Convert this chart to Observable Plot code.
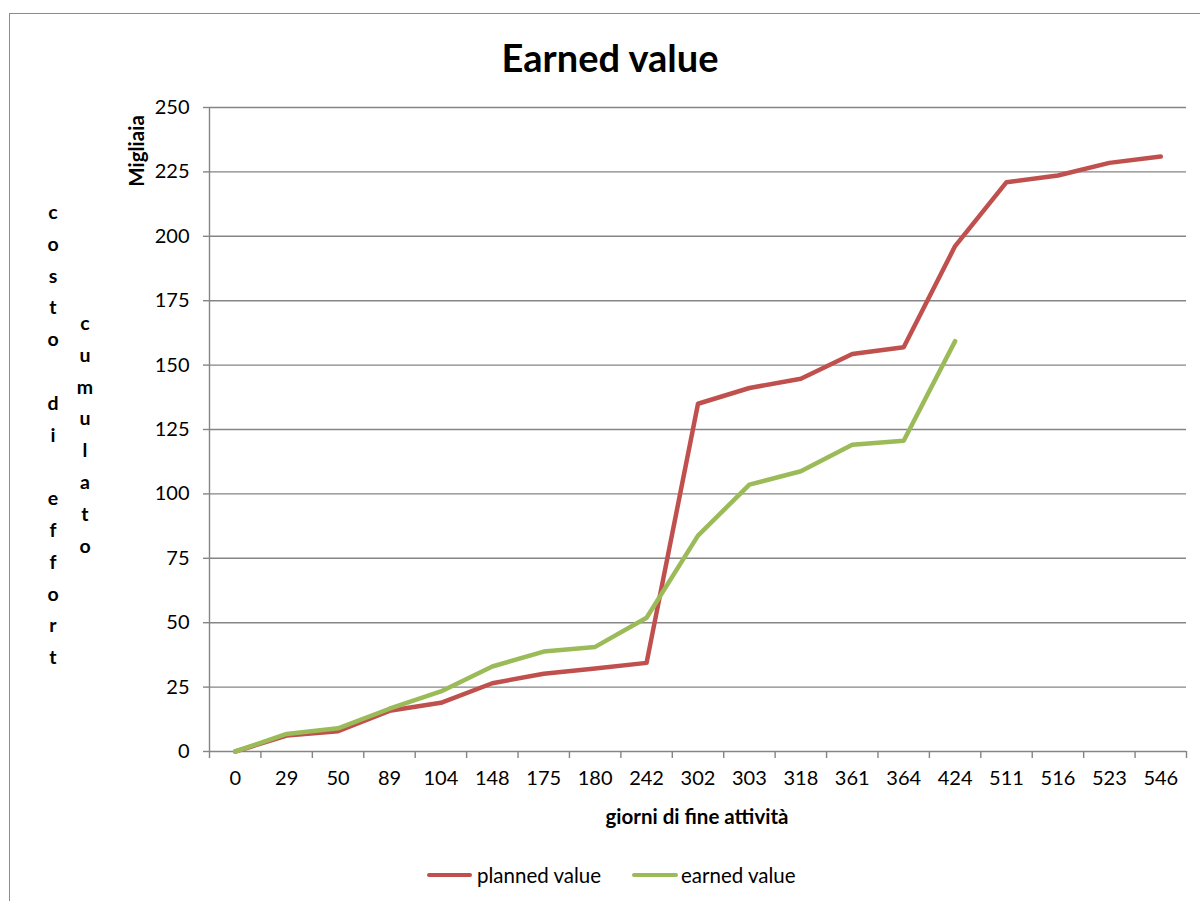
<!DOCTYPE html>
<html>
<head>
<meta charset="utf-8">
<script src="https://cdn.jsdelivr.net/npm/d3@7"></script>
<script src="https://cdn.jsdelivr.net/npm/@observablehq/plot@0.6"></script>
<style>
  html, body { margin: 0; padding: 0; background: #fff; overflow: hidden; }
  #wrap { position: relative; width: 1200px; height: 901px; font-family: Lato, "Open Sans", sans-serif; color: #000; }
  #wrap svg { position: absolute; left: 0; top: 0; }
  .abs { position: absolute; white-space: nowrap; line-height: 1; }
  .center { transform: translate(-50%, -50%); }
  #border { position: absolute; left: 9px; top: 13px; width: 1300px; height: 1000px; border-left: 1.5px solid #8c8c8c; border-top: 1.5px solid #8c8c8c; }
  .col { position: absolute; font-weight: bold; font-size: 19.5px; text-align: center; line-height: 31.8px; width: 30px; white-space: pre; }
  .swatch { position: absolute; height: 4.5px; border-radius: 2px; }
</style>
</head>
<body>
<div id="wrap">
  <div id="border"></div>
</div>
<script>
// ---- data ----
const days = [0, 29, 50, 89, 104, 148, 175, 180, 242, 302, 303, 318, 361, 364, 424, 511, 516, 523, 546];
const plannedValue = [0, 6.2, 7.9, 15.8, 18.9, 26.5, 30.2, 32.2, 34.4, 135.0, 141.1, 144.7, 154.3, 156.9, 196.2, 221.0, 223.6, 228.5, 231.0];
const earnedValue = [0, 6.8, 9.0, 16.6, 23.3, 33.0, 38.8, 40.6, 51.9, 83.8, 103.6, 108.8, 119.1, 120.6, 159.3];
const yTicks = [0, 25, 50, 75, 100, 125, 150, 175, 200, 225, 250];
const seriesNames = ["planned value", "earned value"];
const seriesColors = ["#C0504D", "#9BBB59"];
const title = "Earned value";
const yUnitLabel = "Migliaia";
const yTitleA = "costo di effort";
const yTitleB = "cumulato";
const xTitle = "giorni di fine attività";

// ---- tidy tables ----
const plannedRows = plannedValue.map((v, i) => ({day: days[i], value: v}));
const earnedRows = earnedValue.map((v, i) => ({day: days[i], value: v}));

// ---- layout ----
const W = 1200, H = 901;
const mL = 209, mR = 14, mT = 107, mB = 150;
const step = (W - mL - mR) / days.length;
const gridColor = "#858585";

const chart = Plot.plot({
  width: W,
  height: H,
  marginLeft: mL,
  marginRight: mR,
  marginTop: mT,
  marginBottom: mB,
  style: {fontFamily: "Lato, 'Open Sans', sans-serif", fontSize: "20px", background: "transparent", color: "#000"},
  x: {type: "point", domain: days, padding: 0.5, round: false},
  y: {domain: [0, 250]},
  marks: [
    Plot.ruleY(yTicks.filter(d => d > 0), {stroke: gridColor, strokeWidth: 1.4}),
    Plot.ruleY([0], {stroke: gridColor, strokeWidth: 1.4}),
    Plot.ruleX([days[0]], {dx: -step / 2, stroke: gridColor, strokeWidth: 1.4}),
    // y tick marks
    Plot.axisY({ticks: yTicks, tickSize: 6, tickFormat: () => "", stroke: gridColor, strokeWidth: 1.4, label: null}),
    // y tick labels
    Plot.axisY({ticks: yTicks, tickSize: 0, tickPadding: 20, label: null, fill: "#000"}),
    // x tick marks at category boundaries
    Plot.axisX({ticks: days, tickSize: 7, tickFormat: () => "", dx: -step / 2, stroke: gridColor, strokeWidth: 1.4, label: null}),
    Plot.axisX({ticks: [days[days.length - 1]], tickSize: 7, tickFormat: () => "", dx: step / 2, stroke: gridColor, strokeWidth: 1.4, label: null}),
    // x tick labels
    Plot.axisX({ticks: days, tickSize: 0, tickPadding: 19, label: null, fill: "#000"}),
    Plot.line(plannedRows, {x: "day", y: "value", stroke: seriesColors[0], strokeWidth: 4.5, strokeLinejoin: "round", strokeLinecap: "round"}),
    Plot.line(earnedRows, {x: "day", y: "value", stroke: seriesColors[1], strokeWidth: 4.5, strokeLinejoin: "round", strokeLinecap: "round"})
  ]
});

const wrap = document.getElementById("wrap");
wrap.appendChild(chart);

function addText(txt, x, y, css) {
  const d = document.createElement("div");
  d.className = "abs center";
  d.textContent = txt;
  d.style.left = x + "px";
  d.style.top = y + "px";
  Object.assign(d.style, css || {});
  wrap.appendChild(d);
  return d;
}

// title
addText(title, 610, 57, {fontSize: "38px", fontWeight: "bold"});
// unit label (rotated)
addText(yUnitLabel, 136, 151, {fontSize: "20.5px", fontWeight: "bold", transform: "translate(-50%, -50%) rotate(-90deg)"});
// x axis title
addText(xTitle, 697, 816, {fontSize: "20.5px", fontWeight: "bold"});

// stacked vertical titles
function addColumn(txt, cx, firstY) {
  const d = document.createElement("div");
  d.className = "col";
  d.textContent = txt.split("").join("\n");
  d.style.left = (cx - 15) + "px";
  d.style.top = (firstY - 31.8 / 2) + "px";
  wrap.appendChild(d);
}
addColumn(yTitleA, 53, 212);
addColumn(yTitleB, 85, 323);

// legend
const legendItems = [
  {x0: 427, x1: 472, tx: 477},
  {x0: 632, x1: 678, tx: 681}
];
seriesNames.forEach((name, i) => {
  const it = legendItems[i];
  const s = document.createElement("div");
  s.className = "swatch";
  s.style.left = it.x0 + "px";
  s.style.width = (it.x1 - it.x0) + "px";
  s.style.top = (875 - 2.25) + "px";
  s.style.background = seriesColors[i];
  wrap.appendChild(s);
  const t = document.createElement("div");
  t.className = "abs";
  t.textContent = name;
  t.style.left = it.tx + "px";
  t.style.top = "875px";
  t.style.fontSize = "20.5px";
  t.style.transform = "translateY(-50%)";
  wrap.appendChild(t);
});
</script>
</body>
</html>
